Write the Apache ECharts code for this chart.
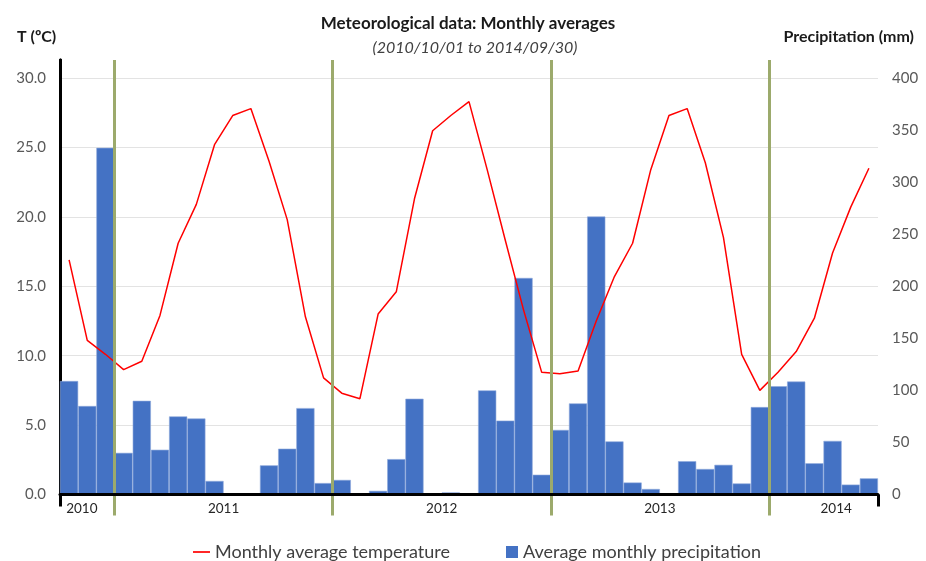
<!DOCTYPE html>
<html>
<head>
<meta charset="utf-8">
<script src="https://cdn.jsdelivr.net/npm/echarts@6/dist/echarts.min.js"></script>
<style>
html,body{margin:0;padding:0;background:#fff;}
#c{width:926px;height:561px;}
</style>
</head>
<body>
<div id="c"></div>
<script>
// Months from 2010-10 to 2014-06
var months = ['2010-10','2010-11','2010-12',
  '2011-01','2011-02','2011-03','2011-04','2011-05','2011-06','2011-07','2011-08','2011-09','2011-10','2011-11','2011-12',
  '2012-01','2012-02','2012-03','2012-04','2012-05','2012-06','2012-07','2012-08','2012-09','2012-10','2012-11','2012-12',
  '2013-01','2013-02','2013-03','2013-04','2013-05','2013-06','2013-07','2013-08','2013-09','2013-10','2013-11','2013-12',
  '2014-01','2014-02','2014-03','2014-04','2014-05','2014-06'];

// Monthly average temperature (ºC)
var temperature = [16.9, 11.1, 10.1,
  9.0, 9.6, 12.9, 18.1, 20.9, 25.2, 27.3, 27.8, 24.0, 19.8, 12.8, 8.4,
  7.3, 6.9, 13.0, 14.6, 21.3, 26.2, 27.3, 28.3, 23.4, 18.3, 13.3, 8.8,
  8.7, 8.9, 12.5, 15.7, 18.1, 23.4, 27.3, 27.8, 23.9, 18.5, 10.1, 7.5,
  8.8, 10.3, 12.7, 17.4, 20.7, 23.5];

// Average monthly precipitation (mm)
var precipitation = [109, 85, 333,
  40, 90, 43, 75, 73, 13, 0, 0, 28, 44, 83, 11,
  14, 1, 3.5, 34, 92, 0, 2, 0, 100, 71, 208, 19,
  62, 87.5, 267, 51, 11.5, 5.3, 0.5, 32, 24.5, 28.5, 10.6, 84,
  104, 108.5, 30, 51.5, 9.5, 15.5];

// Year grouping on the category axis (category index positions)
var yearLabels = ['2010', '2011', '2012', '2013', '2014'];
var yearLabelPos = [1.2, 9, 21, 33, 42.7];
var yearBoundaries = [3, 15, 27, 39];

// Axis tick values
var tempTicks = [0, 5, 10, 15, 20, 25, 30];
var precTicks = [0, 50, 100, 150, 200, 250, 300, 350, 400];

var tempMax = 31.3;
var precMax = tempMax * 400 / 30;

var FONT = 'Lato, "Liberation Sans", sans-serif';
var green = '#9CAA6C';

var chart = echarts.init(document.getElementById('c'), null, {renderer: 'canvas'});

var option = {
  animation: false,
  textStyle: {fontFamily: FONT},
  title: [
    {text: 'Meteorological data: Monthly averages', left: 463, top: 10, textAlign: 'center',
     textStyle: {fontFamily: FONT, fontSize: 17, fontWeight: 'bold', color: '#1a1a1a'}},
    {text: '(2010/10/01 to 2014/09/30)', left: 470, top: 35, textAlign: 'center',
     textStyle: {fontFamily: FONT, fontSize: 16, fontStyle: 'italic', fontWeight: 'normal', color: '#404040'}},
    {text: 'T (ºC)', left: 12, top: 24,
     textStyle: {fontFamily: FONT, fontSize: 16, fontWeight: 'bold', color: '#1a1a1a'}},
    {text: 'Precipitation (mm)', right: 7, top: 24,
     textStyle: {fontFamily: FONT, fontSize: 16, fontWeight: 'bold', color: '#1a1a1a'}}
  ],
  legend: [
    {data: [{name: 'Monthly average temperature', icon: 'path://M0 0H20V2H0Z'}],
     left: 188, top: 538, itemWidth: 17, itemHeight: 10, itemGap: 8,
     textStyle: {fontFamily: FONT, fontSize: 18, color: '#404040'}},
    {data: [{name: 'Average monthly precipitation', icon: 'rect'}],
     left: 501, top: 538, itemWidth: 12, itemHeight: 12, itemGap: 8,
     itemStyle: {borderWidth: 0},
     textStyle: {fontFamily: FONT, fontSize: 18, color: '#404040'}}
  ],
  grid: {left: 60, right: 48, top: 60, bottom: 66.5, containLabel: false},
  xAxis: [
    {type: 'category', data: months, position: 'bottom', boundaryGap: true,
     axisLine: {show: true, onZero: false, lineStyle: {color: '#000', width: 3}},
     axisTick: {show: false}, axisLabel: {show: false}, splitLine: {show: false}, z: 5},
    {type: 'value', min: 0, max: months.length, position: 'bottom',
     axisLine: {show: false},
     axisTick: {show: true, customValues: yearBoundaries, length: 21, inside: false,
                lineStyle: {color: green, width: 3}},
     axisLabel: {show: true, customValues: yearLabelPos, margin: 7,
                 fontFamily: FONT, fontSize: 13.5, color: '#262626',
                 formatter: function (v) { var i = yearLabelPos.indexOf(v); return i >= 0 ? yearLabels[i] : ''; }},
     splitLine: {show: false}},
    {type: 'value', min: 0, max: months.length, position: 'bottom',
     axisLine: {show: false},
     axisTick: {show: true, customValues: [0, months.length], length: 12,
                lineStyle: {color: '#000', width: 3}},
     axisLabel: {show: false}, splitLine: {show: false}}
  ],
  yAxis: [
    {type: 'value', min: 0, max: tempMax, interval: 5, position: 'left',
     axisLine: {show: true, lineStyle: {color: '#000', width: 3}},
     axisTick: {show: false},
     axisLabel: {margin: 14, fontFamily: FONT, fontSize: 15, color: '#595959', showMaxLabel: false,
                 formatter: function (v) { return tempTicks.indexOf(v) >= 0 ? v.toFixed(1) : ''; }},
     splitLine: {show: true, showMaxLine: false, lineStyle: {color: '#E3E3E3', width: 1}}},
    {type: 'value', min: 0, max: precMax, interval: 50, position: 'right',
     axisLine: {show: true, lineStyle: {color: '#000', width: 3}},
     axisTick: {show: false},
     axisLabel: {margin: 14, fontFamily: FONT, fontSize: 15, color: '#595959', showMaxLabel: false,
                 formatter: function (v) { return precTicks.indexOf(v) >= 0 ? String(v) : ''; }},
     splitLine: {show: false}}
  ],
  series: [
    {name: 'Average monthly precipitation', type: 'bar', xAxisIndex: 0, yAxisIndex: 1,
     data: precipitation, barCategoryGap: '0%', barGap: '0%',
     itemStyle: {color: '#4472C4', borderColor: '#8EA9DB', borderWidth: 0.6}, z: 2},
    {name: 'yearSeparators', type: 'line', xAxisIndex: 1, yAxisIndex: 0, data: [], z: 3,
     silent: true,
     markLine: {symbol: 'none', silent: true, label: {show: false},
                lineStyle: {color: green, width: 3, type: 'solid'},
                data: yearBoundaries.map(function (b) { return {xAxis: b}; })}},
    {name: 'Monthly average temperature', type: 'line', xAxisIndex: 0, yAxisIndex: 0,
     data: temperature, symbol: 'none', showSymbol: false, smooth: false,
     lineStyle: {color: '#FF0000', width: 1.5}, itemStyle: {color: '#FF0000'}, z: 4}
  ]
};
chart.setOption(option);
</script>
</body>
</html>
